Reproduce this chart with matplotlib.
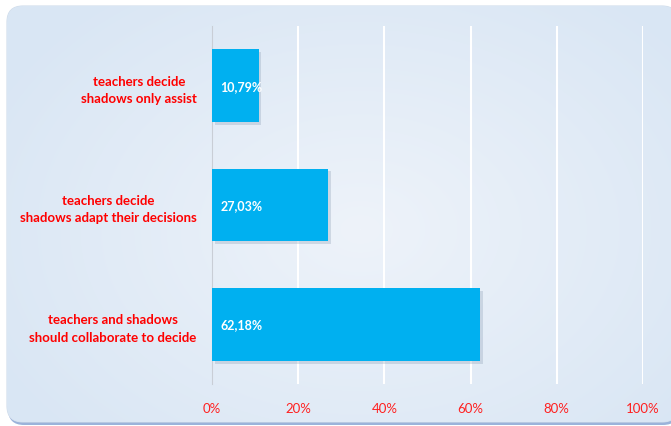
import matplotlib.pyplot as plt
import numpy as np
from matplotlib.patches import FancyBboxPatch
import matplotlib.patheffects as pe

# survey answers, top to bottom
categories = [
    "teachers decide\nshadows only assist",
    "teachers decide\nshadows adapt their decisions",
    "teachers and shadows\nshould collaborate to decide",
]
shares = [10.79, 27.03, 62.18]
tick_values = [0, 20, 40, 60, 80, 100]
tick_labels = ["0%", "20%", "40%", "60%", "80%", "100%"]

plt.rcParams['font.family'] = ['Lato', 'DejaVu Sans']

W, H = 671, 427
fig = plt.figure(figsize=(W / 100, H / 100), dpi=100)
fig.patch.set_facecolor('white')

# rounded panel with soft radial gradient
bg = fig.add_axes([0, 0, 1, 1])
bg.set_xlim(0, W)
bg.set_ylim(H, 0)
bg.axis('off')

shadow = FancyBboxPatch((8, 10), W, 416, boxstyle="round,pad=0,rounding_size=16",
                        facecolor='#9bb3da', edgecolor='none', zorder=0)
bg.add_patch(shadow)
panel = FancyBboxPatch((7, 7), W, 416, boxstyle="round,pad=0,rounding_size=16",
                       facecolor='#e3ecf6', edgecolor='#d0dcea', linewidth=0.8, zorder=1)
bg.add_patch(panel)

yy, xx = np.mgrid[0:H, 0:W]
r = np.sqrt(((xx - 360) / 420.0) ** 2 + ((yy - 230) / 300.0) ** 2)
r = np.clip(r, 0, 1)
c0 = np.array([0xee, 0xf3, 0xfa]) / 255.0
c1 = np.array([0xd9, 0xe6, 0xf4]) / 255.0
grad = c0[None, None, :] * (1 - r[..., None]) + c1[None, None, :] * r[..., None]
im = bg.imshow(grad, extent=(0, W, H, 0), zorder=2, interpolation='bilinear')
im.set_clip_path(panel)

# bar chart
ax = fig.add_axes([212 / W, 1 - 385 / H, 431 / W, 358 / H])
ax.set_facecolor('none')
ypos = np.arange(len(categories))
bars = ax.barh(ypos, shares, height=0.61, color='#00b0f0', zorder=3)
for b in bars:
    b.set_path_effects([pe.SimplePatchShadow(offset=(2, -2), shadow_rgbFace='#8a9cb2', alpha=0.3),
                        pe.Normal()])

for y, v in zip(ypos, shares):
    ax.annotate(f"{v:.2f}%".replace('.', ','), xy=(0, y), xytext=(6, 0),
                textcoords='offset points', ha='left', va='center',
                color='white', fontsize=9, fontweight='bold', zorder=4)

ax.set_xlim(0, 100)
ax.set_ylim(len(categories) - 0.5, -0.5)
ax.set_xticks(tick_values)
ax.set_xticklabels(tick_labels, color='#ff2020', fontsize=9.5)
ax.set_yticks(ypos)
ax.set_yticklabels(categories, color='#ff0000', fontsize=9.5, fontweight='bold',
                   multialignment='center', linespacing=1.55)
ax.tick_params(axis='both', length=0)
ax.tick_params(axis='x', pad=13)
ax.tick_params(axis='y', pad=11)

ax.grid(axis='x', color='white', linewidth=1.5, zorder=1)
for s in ['top', 'right', 'bottom']:
    ax.spines[s].set_visible(False)
ax.spines['left'].set_color('#c9ced6')
ax.spines['left'].set_zorder(2)

fig.savefig('out.png', dpi=100)
